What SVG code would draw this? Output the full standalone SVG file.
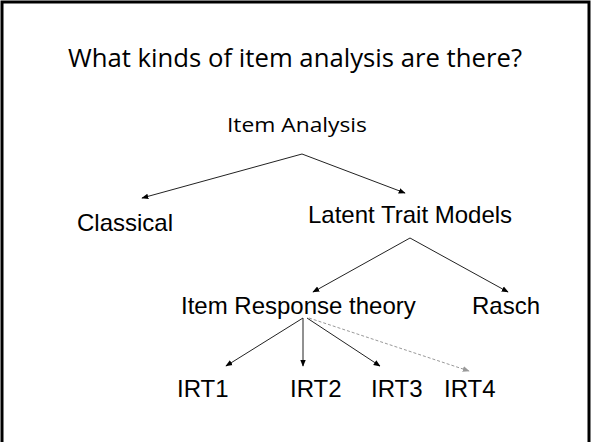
<svg xmlns="http://www.w3.org/2000/svg" width="591" height="442" viewBox="0 0 591 442">
<style>
.t{font-family:"Liberation Sans",Arial,sans-serif;font-size:24px;fill:#000}
.h{font-family:"Open Sans","Noto Sans",sans-serif;fill:#000}
.c{stroke:#222;stroke-width:1;fill:none;marker-end:url(#ah)}
.d{stroke:#999;stroke-width:1;fill:none;stroke-dasharray:3,2;marker-end:url(#ahg)}
</style>
<defs>
<marker id="ah" viewBox="0 0 10 10" refX="9" refY="5" markerWidth="7" markerHeight="7" markerUnits="userSpaceOnUse" orient="auto"><path d="M0,1 L10,5 L0,9 z" fill="#000"/></marker>
<marker id="ahg" viewBox="0 0 10 10" refX="9" refY="5" markerWidth="7" markerHeight="7" markerUnits="userSpaceOnUse" orient="auto"><path d="M0,1 L10,5 L0,9 z" fill="#999"/></marker>
</defs>
<rect width="591" height="442" fill="#fff"/>
<path d="M2,442 V2 H589 V442" fill="none" stroke="#000" stroke-width="3"/>
<text id="title" class="h" x="295" y="67" text-anchor="middle" font-size="26" textLength="454" lengthAdjust="spacingAndGlyphs">What kinds of item analysis are there?</text>
<g id="connectors">
<line class="c" x1="302" y1="154" x2="142" y2="198"/>
<line class="c" x1="302" y1="154" x2="405" y2="193"/>
<line class="c" x1="410" y1="238" x2="313" y2="292"/>
<line class="c" x1="410" y1="238" x2="508" y2="292"/>
<line class="c" x1="303" y1="318" x2="226" y2="366"/>
<line class="c" x1="303" y1="318" x2="303" y2="366"/>
<line class="c" x1="307" y1="318" x2="380" y2="366"/>
<line class="d" x1="309" y1="318" x2="469" y2="371"/>
</g>
<g id="item-analysis"><text class="h" x="297" y="132" text-anchor="middle" font-size="20" textLength="140" lengthAdjust="spacingAndGlyphs">Item Analysis</text></g>
<g id="classical"><text class="t" x="77" y="231">Classical</text></g>
<g id="latent"><text class="t" x="308" y="223">Latent Trait Models</text></g>
<g id="irt"><text class="t" x="181" y="314">Item Response theory</text></g>
<g id="rasch"><text class="t" x="472" y="314">Rasch</text></g>
<g id="irt1"><text class="t" x="177" y="397">IRT1</text></g>
<g id="irt2"><text class="t" x="290" y="397">IRT2</text></g>
<g id="irt3"><text class="t" x="371" y="397">IRT3</text></g>
<g id="irt4"><text class="t" x="444" y="397">IRT4</text></g>
</svg>
